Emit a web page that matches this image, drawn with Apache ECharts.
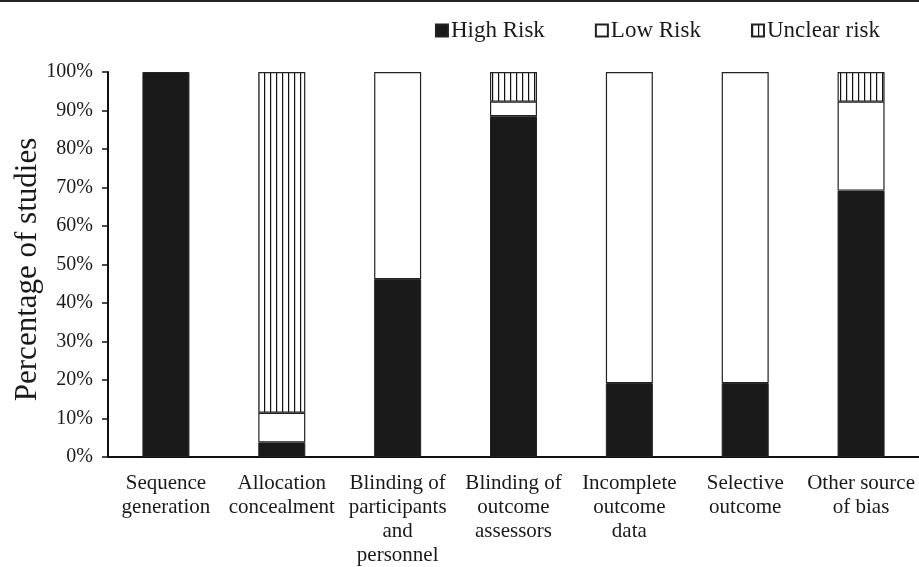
<!DOCTYPE html>
<html>
<head>
<meta charset="utf-8">
<script src="https://cdn.jsdelivr.net/npm/echarts@6/dist/echarts.min.js"></script>
<style>html,body{margin:0;padding:0;background:#fff}#c{width:919px;height:567px}</style>
</head>
<body>
<div id="c"></div>
<script>
const categories = [
  "Sequence\ngeneration",
  "Allocation\nconcealment",
  "Blinding of\nparticipants\nand\npersonnel",
  "Blinding of\noutcome\nassessors",
  "Incomplete\noutcome\ndata",
  "Selective\noutcome",
  "Other source\nof bias"
];
const highRisk = [100, 3.8, 46.2, 88.5, 19.2, 19.2, 69.2];
const lowRisk = [0, 7.7, 53.8, 3.8, 80.8, 80.8, 23.1];
const unclearRisk = [0, 88.5, 0, 7.7, 0, 0, 7.7];
const yTicks = [0, 10, 20, 30, 40, 50, 60, 70, 80, 90, 100];

function stripePattern() {
  const c = document.createElement('canvas');
  c.width = 6; c.height = 6;
  const g = c.getContext('2d');
  g.fillStyle = '#fff'; g.fillRect(0, 0, 6, 6);
  g.fillStyle = '#111'; g.fillRect(0, 0, 1.2, 6);
  return c;
}
const stripe = { image: stripePattern(), repeat: 'repeat' };
const nz = arr => arr.map(v => v === 0 ? null : v);
const FONT = 'Liberation Serif';

const chart = echarts.init(document.getElementById('c'), null, { renderer: 'canvas' });
chart.setOption({
  animation: false,
  backgroundColor: '#fff',
  textStyle: { fontFamily: FONT, color: '#1a1a1a' },
  graphic: [{
    type: 'line', shape: { x1: 0, y1: 1, x2: 919, y2: 1 },
    style: { stroke: '#222', lineWidth: 2 }
  }],
  legend: {
    top: 14, right: 34, itemWidth: 12, itemHeight: 12, itemGap: 50,
    icon: 'rect',
    textStyle: { fontFamily: FONT, fontSize: 23, color: '#1a1a1a', padding: [0, 0, 0, -2] },
    data: ['High Risk', 'Low Risk', 'Unclear risk']
  },
  grid: { left: 108, right: 0, top: 72, bottom: 110, containLabel: false, outerBoundsMode: 'none' },
  xAxis: {
    type: 'category', data: categories,
    axisLine: { lineStyle: { color: '#111', width: 2 } },
    axisTick: { show: false },
    axisLabel: { fontFamily: FONT, fontSize: 21, lineHeight: 24, color: '#1a1a1a', margin: 14, interval: 0 }
  },
  yAxis: {
    type: 'value', min: yTicks[0], max: yTicks[yTicks.length - 1], interval: 10,
    name: 'Percentage of studies', nameLocation: 'middle', nameGap: 65, nameMoveOverlap: false,
    nameTextStyle: { fontFamily: FONT, fontSize: 31, color: '#1a1a1a', padding: [0, 10, 0, 0] },
    axisLine: { show: true, lineStyle: { color: '#111', width: 2 } },
    axisTick: { show: true, length: 6, lineStyle: { color: '#111', width: 1.5 } },
    splitLine: { show: false },
    axisLabel: { fontFamily: FONT, fontSize: 20, color: '#1a1a1a', margin: 15, formatter: '{value}%' }
  },
  series: [
    { name: 'High Risk', type: 'bar', stack: 's', barWidth: 47, data: nz(highRisk),
      itemStyle: { color: '#1a1a1a', borderColor: '#222', borderWidth: 1 } },
    { name: 'Low Risk', type: 'bar', stack: 's', barWidth: 47, data: nz(lowRisk),
      itemStyle: { color: '#fff', borderColor: '#222', borderWidth: 1.2 } },
    { name: 'Unclear risk', type: 'bar', stack: 's', barWidth: 47, data: nz(unclearRisk),
      itemStyle: { color: stripe, borderColor: '#222', borderWidth: 1.2 } }
  ]
});
</script>
</body>
</html>
